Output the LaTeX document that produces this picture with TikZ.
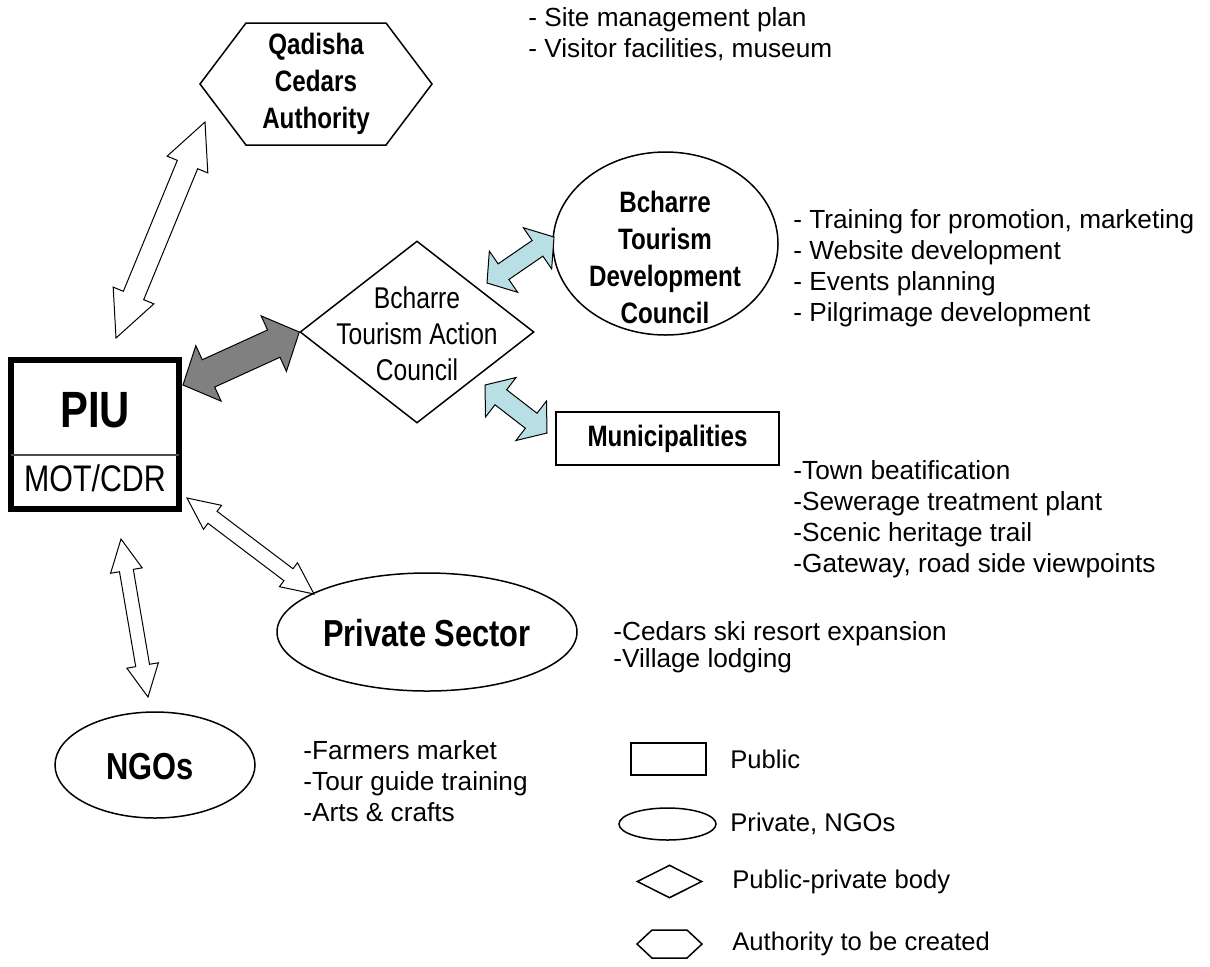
\documentclass[tikz,border=0pt]{standalone}
\usepackage{fontspec}
\setmainfont{Liberation Sans}
\newfontfamily\narrowfont[FakeStretch=0.82]{Liberation Sans}
\usetikzlibrary{calc, positioning, shapes.geometric}
\definecolor{arrowgray}{RGB}{128,128,128}
\definecolor{paleblue}{RGB}{184,223,228}

% double block arrow: [style]{from}{to}{head length}{head half width}{shaft half width}
\newcommand{\blockarrow}[6][]{%
  \draw[#1] (#2) -- ($(#2)!#4!(#3)!#5!90:(#3)$) -- ($(#2)!#4!(#3)!#6!90:(#3)$)
    -- ($(#3)!#4!(#2)!#6!-90:(#2)$) -- ($(#3)!#4!(#2)!#5!-90:(#2)$) -- (#3)
    -- ($(#3)!#4!(#2)!#5!90:(#2)$) -- ($(#3)!#4!(#2)!#6!90:(#2)$)
    -- ($(#2)!#4!(#3)!#6!-90:(#3)$) -- ($(#2)!#4!(#3)!#5!-90:(#3)$) -- cycle;}

\begin{document}
\begin{tikzpicture}[x=0.5pt, y=-0.5pt,
		outline/.style={draw, line width=0.75pt, inner sep=0pt},
		boldtext/.style={font=\narrowfont\bfseries\fontsize{14.75}{18.5}\selectfont, align=center, inner sep=0pt},
		plaintext/.style={font=\narrowfont\fontsize{15}{18}\selectfont, align=center, inner sep=0pt},
		bigtext/.style={font=\narrowfont\bfseries\fontsize{18.8}{22}\selectfont, inner sep=0pt},
		note/.style={font=\fontsize{13.1}{15.5}\selectfont, align=left, anchor=west, inner sep=0pt},
		legtext/.style={font=\fontsize{12.8}{15}\selectfont, anchor=west, inner sep=0pt},
		hollow/.style={draw, fill=white, line width=0.5pt},
		solidarrow/.style={draw, fill=arrowgray, line width=0.5pt},
		tealarrow/.style={draw, fill=paleblue, line width=0.5pt}]
		\useasboundingbox (0,0) rectangle (1210,966);

		% PIU
		\node[outline, line width=3pt, minimum width=84pt, minimum height=74.5pt] (piu) at (95,434.5) {};
		\draw[black!70, line width=0.6pt] ($(piu.west)+(3,20.5)$) -- ($(piu.east)+(-3,20.5)$);
		\node[font=\narrowfont\bfseries\fontsize{25.5}{28}\selectfont, inner sep=0pt] (piu-t) at (95,410) {PIU};
		\node[font=\narrowfont\fontsize{18.5}{20}\selectfont, inner sep=0pt] (mot) at (95,478) {MOT/CDR};

		% Qadisha Cedars Authority
		\node[boldtext] (qca) at (316,84) {Qadisha\\Cedars\\Authority};
		\draw[line width=0.75pt] ($(qca)+(-116,0)$) -- ++(46,-61) -- ++(140,0) -- ++(46,61)
			-- ++(-46,61) -- ++(-140,0) -- cycle;

		% action council
		\node[outline, diamond, minimum width=117pt, minimum height=91pt] (tac) at (417,332) {};
		\node[plaintext] (tac-t) at (417,334) {Bcharre\\Tourism Action\\Council};

		% development council
		\node[outline, ellipse, minimum width=112.5pt, minimum height=91.5pt] (btdc) at (665.5,243.5) {};
		\node[boldtext] (btdc-t) at (665,257) {Bcharre\\Tourism\\Development\\Council};

		\node[outline, boldtext, draw, minimum width=111.5pt, minimum height=26.5pt] (mun) at (667.5,438.5) {Municipalities};

		\node[outline, ellipse, minimum width=150pt, minimum height=59pt] (priv) at (427,632) {};
		\node[bigtext] (priv-t) at (427,633) {Private Sector};

		\node[outline, ellipse, minimum width=100pt, minimum height=53pt] (ngo) at (155,765) {};
		\node[bigtext] (ngo-t) at (150,767) {NGOs};

		% arrows
		\coordinate (qa1) at (205,122);
		\coordinate (qa2) at (116,338);
		\coordinate (ga1) at (183,385);
		\coordinate (ca1) at (487,283);
		\coordinate (ca2) at (554,237);
		\coordinate (cb1) at (485,385);
		\coordinate (cb2) at (547,433);
		\coordinate (pa1) at (187,498);
		\coordinate (pa2) at (314,594);
		\coordinate (na1) at (121,539);
		\coordinate (na2) at (148,697);
		\blockarrow[hollow]{qa1}{qa2}{23pt}{11pt}{5.5pt}
		\blockarrow[solidarrow]{ga1}{tac.west}{14pt}{15.25pt}{7.5pt}
		\blockarrow[tealarrow]{ca1}{ca2}{10pt}{12.5pt}{4.75pt}
		\blockarrow[tealarrow]{cb1}{cb2}{10pt}{12.5pt}{4.75pt}
		\blockarrow[hollow]{pa1}{pa2}{16pt}{7.5pt}{3.75pt}
		\blockarrow[hollow]{na1}{na2}{16pt}{8pt}{3.5pt}

		% notes
		\node[note] (n-qca) at (528,34) {- Site management plan\\- Visitor facilities, museum};
		\node[note] (n-btdc) at (793,268.5) {- Training for promotion, marketing\\- Website development\\- Events planning\\- Pilgrimage development};
		\node[note] (n-mun) at (793,519) {-Town beatification\\-Sewerage treatment plant\\-Scenic heritage trail\\-Gateway, road side viewpoints};
		\node[note, font=\fontsize{13.1}{13.5}\selectfont] (n-priv) at (613,647) {-Cedars ski resort expansion\\-Village lodging};
		\node[note] (n-ngo) at (303,781) {-Farmers market\\-Tour guide training\\-Arts \& crafts};

		% legend
		\node[outline, minimum width=37.5pt, minimum height=16pt] (leg-pub) at (668.5,759) {};
		\node[outline, ellipse, minimum width=48.5pt, minimum height=16pt] (leg-priv) at (667.5,824) {};
		\node[outline, diamond, minimum width=32.5pt, minimum height=16.5pt] (leg-pp) at (669.5,881.5) {};
		\coordinate (leg-auth) at (669.5,944);
		\draw[line width=0.75pt] ($(leg-auth)+(-32.5,0)$) -- ++(15,-14) -- ++(35,0) -- ++(15,14)
			-- ++(-15,14) -- ++(-35,0) -- cycle;
		\node[legtext] (l1) at (730,759) {Public};
		\node[legtext] (l2) at (730,824) {Private, NGOs};
		\node[legtext] (l3) at (732,882) {Public-private body};
		\node[legtext] (l4) at (732,944) {Authority to be created};
	\end{tikzpicture}
\end{document}
